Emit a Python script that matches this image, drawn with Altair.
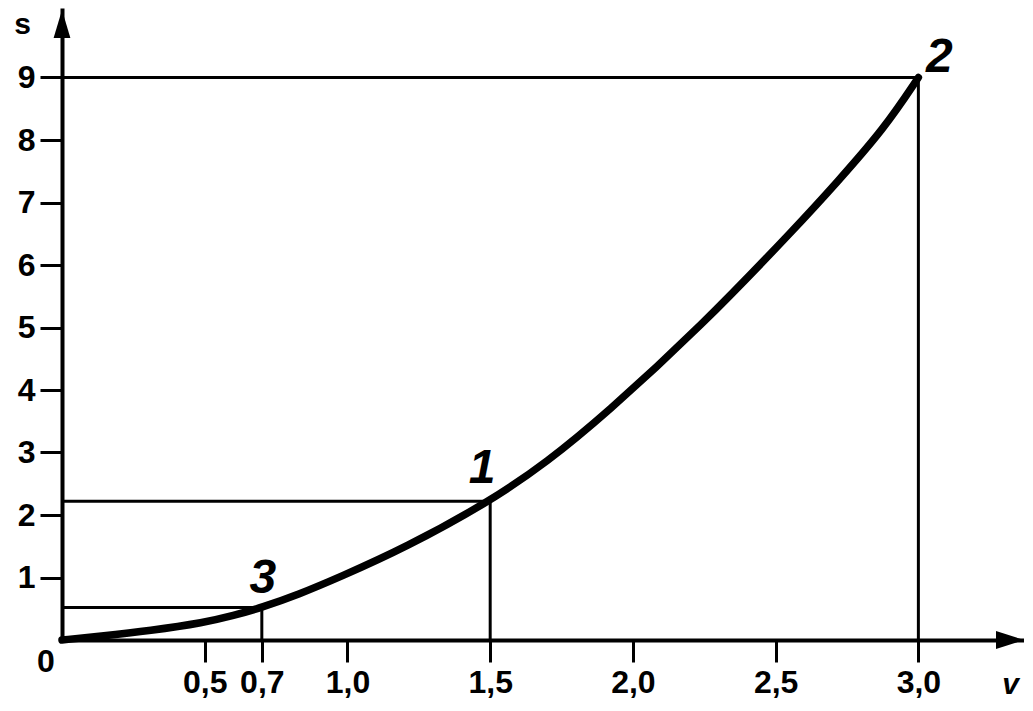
import altair as alt
import pandas as pd

# ---- data ----
curve_v = [0.0, 0.13, 0.31, 0.5, 0.6, 0.7, 0.83, 0.97, 1.2, 1.5, 1.7, 1.9, 2.235, 2.585, 2.71, 2.88, 3.0]
curve_s = [0.0, 0.06, 0.15, 0.28, 0.39, 0.52, 0.73, 1.0, 1.47, 2.22, 2.85, 3.6, 5.0, 6.67, 7.3, 8.18, 9.0]

point_v = [0.7, 1.5, 3.0]
point_s = [0.52, 2.22, 9.0]
point_names = ["3", "1", "2"]

x_ticks = [0.5, 0.7, 1.0, 1.5, 2.0, 2.5, 3.0]
y_ticks = [1, 2, 3, 4, 5, 6, 7, 8, 9]

V_MAX = 3.37
S_MAX = 10.08

FONT = "Liberation Sans"

curve = pd.DataFrame({"v": curve_v, "s": curve_s})
pts = pd.DataFrame({"v": point_v, "s": point_s, "name": point_names, "zero": [0.0] * len(point_v)})
origin = pd.DataFrame({"v": [0.0], "s": [0.0]})
x_arrow = pd.DataFrame({"v": [V_MAX], "s": [0.0]})
y_arrow = pd.DataFrame({"v": [0.0], "s": [S_MAX]})

x_scale = alt.Scale(domain=[0, V_MAX], nice=False, zero=True)
y_scale = alt.Scale(domain=[0, S_MAX], nice=False, zero=True)

x_axis = alt.Axis(
    values=x_ticks,
    labelExpr="replace(format(datum.value, '.1f'), '.', ',')",
    tickSize=22, tickWidth=3, tickColor="black",
    domainWidth=4, domainColor="black", domainCap="square",
    labelFontSize=32, labelFont=FONT, labelFontWeight="bold", labelColor="black",
    labelPadding=5, labelOverlap=False, labelFlush=False, grid=False,
    title="v", titleFont=FONT, titleFontSize=30, titleFontStyle="italic",
    titleFontWeight="bold", titleColor="black",
    titleX=948, titleY=44, titleAlign="center", titleBaseline="middle", titleAngle=0,
)
y_axis = alt.Axis(
    values=y_ticks, format="d",
    tickSize=22, tickWidth=3, tickColor="black",
    domainWidth=4, domainColor="black", domainCap="square",
    labelFontSize=32, labelFont=FONT, labelFontWeight="bold", labelColor="black",
    labelPadding=5, labelOverlap=False, labelFlush=False, grid=False,
    title="s", titleFont=FONT, titleFontSize=30, titleFontWeight="bold",
    titleColor="black",
    titleX=-40, titleY=14, titleAlign="center", titleBaseline="middle", titleAngle=0,
)

X = lambda f: alt.X(f, scale=x_scale, axis=x_axis)
Y = lambda f: alt.Y(f, scale=y_scale, axis=y_axis)

line = alt.Chart(curve).mark_line(
    color="black", strokeWidth=7.5, strokeCap="round", interpolate="basis"
).encode(x=X("v:Q"), y=Y("s:Q"))

h_rules = alt.Chart(pts).mark_rule(color="black", strokeWidth=3).encode(
    x=X("zero:Q"), x2="v", y=Y("s:Q")
)
v_rules = alt.Chart(pts).mark_rule(color="black", strokeWidth=3).encode(
    x=X("v:Q"), y=Y("zero:Q"), y2="s"
)

arrow_x = alt.Chart(x_arrow).mark_point(
    shape="M0,0 L-1,-0.32 L-1,0.32 Z", size=3136, filled=True, color="black", opacity=1, strokeWidth=0
).encode(x=X("v:Q"), y=Y("s:Q"))
arrow_y = alt.Chart(y_arrow).mark_point(
    shape="M0,0 L-0.3,1 L0.3,1 Z", size=3136, filled=True, color="black", opacity=1, strokeWidth=0
).encode(x=X("v:Q"), y=Y("s:Q"))

origin_label = alt.Chart(origin).mark_text(
    text="0", dx=-16, dy=22, fontSize=32, font=FONT, fontWeight="bold", color="black",
    align="center", baseline="middle"
).encode(x=X("v:Q"), y=Y("s:Q"))

def point_label(name, dx, dy):
    return alt.Chart(pts).transform_filter(alt.datum.name == name).mark_text(
        dx=dx, dy=dy, fontSize=48, font=FONT, fontWeight="bold", fontStyle="italic",
        color="black", align="center", baseline="middle"
    ).encode(x=X("v:Q"), y=Y("s:Q"), text="name:N")

lab3 = point_label("3", 1, -29)
lab1 = point_label("1", -8, -32)
lab2 = point_label("2", 21, -20)

chart = alt.layer(
    h_rules, v_rules, line, arrow_x, arrow_y, origin_label, lab3, lab1, lab2
).properties(
    width=962, height=630,
    autosize=alt.AutoSizeParams(type="none"),
    padding={"left": 54, "top": 2, "right": 0, "bottom": 60},
    background="white",
).configure_view(stroke=None)

chart.save("out.html", embed_options={"renderer": "svg", "actions": False})
